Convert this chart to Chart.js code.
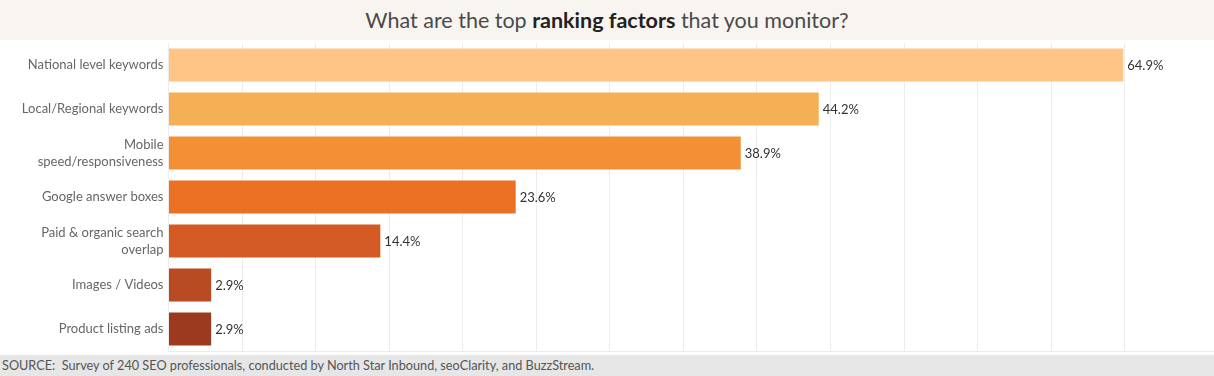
<!DOCTYPE html>
<html lang="en">
<head>
<meta charset="UTF-8">
<title>Top ranking factors</title>
<script src="https://cdn.jsdelivr.net/npm/chart.js"></script>
<style>
    body {
        margin: 0;
        width: 1214px;
        height: 376px;
        overflow: hidden;
        background: #ffffff;
        font-family: Lato, "Open Sans", sans-serif;
    }
    .title {
        height: 40px;
        line-height: 40px;
        background: #f8f4f0;
        text-align: center;
        font-size: 21.5px;
        color: #4a4a4a;
    }
    .title b { font-weight: 700; color: #222; }
    .chart-box {
        position: relative;
        width: 1214px;
        height: 315px;
    }
    .source {
        height: 21px;
        line-height: 21px;
        background: #e6e6e6;
        font-size: 12.7px;
        color: #555;
        padding-left: 2px;
        white-space: pre;
    }
</style>
</head>
<body>

<div class="title">What are the top <b>ranking factors</b> that you monitor?</div>
<div class="chart-box"><canvas id="factorsChart"></canvas></div>
<div class="source">SOURCE:  Survey of 240 SEO professionals, conducted by North Star Inbound, seoClarity, and BuzzStream.</div>

<script>
const factors = [
    'National level keywords',
    'Local/Regional keywords',
    ['Mobile', 'speed/responsiveness'],
    'Google answer boxes',
    ['Paid & organic search', 'overlap'],
    'Images / Videos',
    'Product listing ads'
];
const shares = [64.9, 44.2, 38.9, 23.6, 14.4, 2.9, 2.9];
const barColors = ['#fec586', '#f5af55', '#f39035', '#ec7023', '#d35a23', '#b84b22', '#9c3a20'];

// percentage labels at the end of each bar
const valueLabels = {
    id: 'valueLabels',
    afterDatasetsDraw(chart) {
        const c = chart.ctx;
        const meta = chart.getDatasetMeta(0);
        c.save();
        c.font = '13px Lato, "Open Sans", sans-serif';
        c.fillStyle = '#333';
        c.textBaseline = 'middle';
        meta.data.forEach((bar, i) => {
            c.fillText(shares[i].toFixed(1) + '%', bar.x + 4, bar.y + 1);
        });
        c.restore();
    }
};

new Chart(document.getElementById('factorsChart'), {
    type: 'bar',
    data: {
        labels: factors,
        datasets: [{
            data: shares,
            backgroundColor: barColors,
            barPercentage: 0.75,
            categoryPercentage: 1
        }]
    },
    options: {
        indexAxis: 'y',
        responsive: true,
        maintainAspectRatio: false,
        animation: false,
        layout: { padding: { top: 3, bottom: 4, right: 1, left: 0 } },
        plugins: {
            legend: { display: false },
            tooltip: { enabled: false }
        },
        scales: {
            x: {
                min: 0,
                max: 71,
                afterBuildTicks(scale) {
                    scale.ticks = scale.ticks.filter(t => t.value % 5 === 0);
                },
                afterFit(scale) { scale.height = 0; },
                ticks: { display: false, stepSize: 5 },
                grid: { color: '#ececec', drawTicks: false },
                border: { display: true, color: '#ececec' }
            },
            y: {
                afterFit(scale) {
                    scale.width = 168.5;
                    scale.paddingTop = 0;
                    scale.paddingBottom = 0;
                },
                grid: { display: false, drawTicks: false },
                border: { display: false },
                ticks: {
                    color: '#666',
                    padding: 5,
                    font: { family: 'Lato, "Open Sans", sans-serif', size: 13, lineHeight: 1.3 }
                }
            }
        }
    },
    plugins: [valueLabels]
});
</script>

</body>
</html>
